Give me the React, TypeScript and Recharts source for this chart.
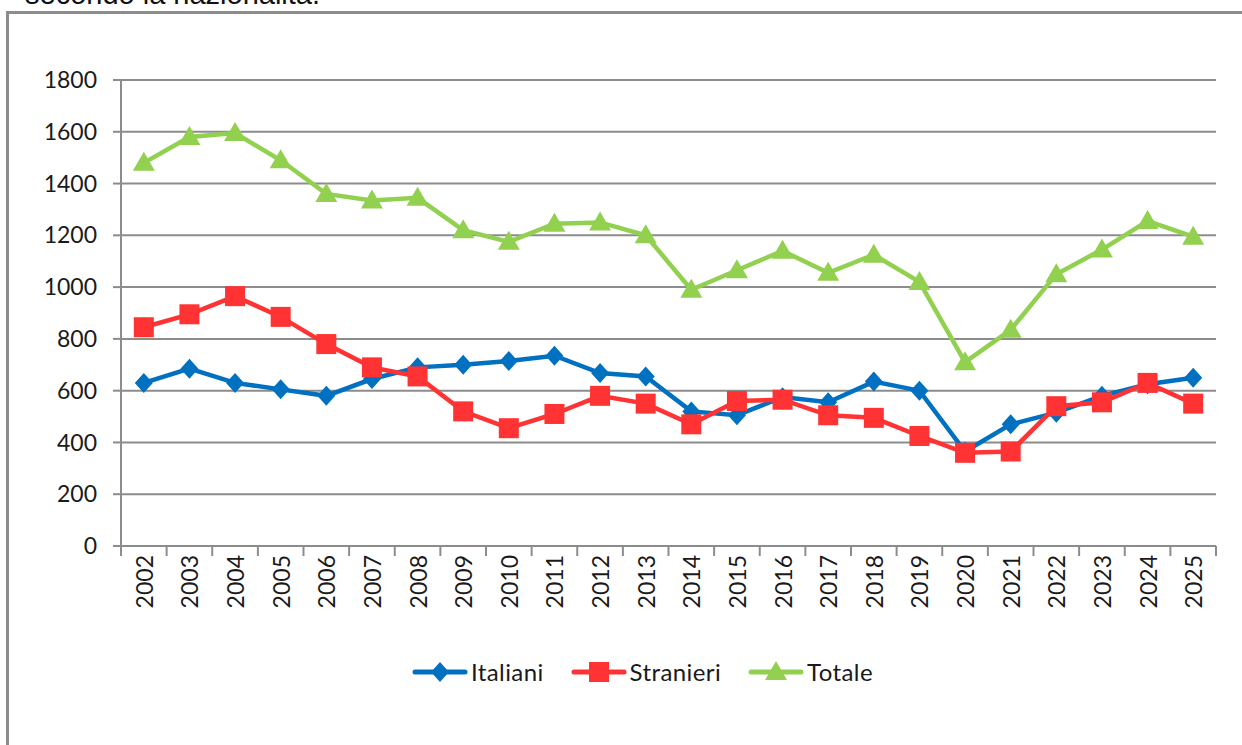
import React from "react";
import { LineChart, Line, XAxis, YAxis, CartesianGrid } from "recharts";

const years = [
  "2002", "2003", "2004", "2005", "2006", "2007", "2008", "2009", "2010", "2011", "2012", "2013",
  "2014", "2015", "2016", "2017", "2018", "2019", "2020", "2021", "2022", "2023", "2024", "2025",
];
const italiani = [630, 685, 630, 605, 580, 645, 690, 700, 715, 735, 668, 655, 520, 505, 575, 555, 635, 600, 365, 470, 515, 580, 625, 650];
const stranieri = [845, 895, 965, 885, 780, 690, 655, 520, 455, 510, 580, 550, 470, 560, 565, 505, 495, 425, 360, 365, 540, 555, 630, 550];
const totale = [1480, 1580, 1595, 1490, 1360, 1335, 1345, 1220, 1175, 1245, 1250, 1200, 990, 1065, 1140, 1055, 1125, 1020, 710, 835, 1050, 1145, 1255, 1195];
const yTicks = [0, 200, 400, 600, 800, 1000, 1200, 1400, 1600, 1800];

const data = years.map((y, i) => ({
  i,
  year: y,
  italiani: italiani[i],
  stranieri: stranieri[i],
  totale: totale[i],
}));

const BLUE = "#0070C0";
const RED = "#FF3333";
const GREEN = "#92D050";
const GRID = "#8c8c8c";
const FONT = "Lato, 'Open Sans', sans-serif";

const centerTicks = years.map((_, i) => i);
const edgeTicks = [...years.map((_, i) => i - 0.5), years.length - 0.5];

const Marker = ({ kind, x, y, color }) => {
  if (kind === "diamond") {
    return <polygon points={`${x},${y - 10} ${x + 9},${y} ${x},${y + 10} ${x - 9},${y}`} fill={color} />;
  }
  if (kind === "square") {
    return <rect x={x - 10} y={y - 10} width={20} height={20} fill={color} />;
  }
  return <polygon points={`${x},${y - 11} ${x + 11},${y + 8} ${x - 11},${y + 8}`} fill={color} />;
};

const dotFor = (kind, color) => (props) => (
  <Marker key={`${kind}-${props.index}`} kind={kind} x={props.cx} y={props.cy} color={color} />
);

const YearTick = ({ x, y, payload }) => (
  <g transform={`translate(${x},${y})`}>
    <text
      transform="rotate(-90)"
      textAnchor="end"
      dominantBaseline="central"
      fontFamily={FONT}
      fontSize={23}
      fill="#1a1a1a"
    >
      {years[payload.value]}
    </text>
  </g>
);

const series = [
  { key: "italiani", name: "Italiani", color: BLUE, kind: "diamond" },
  { key: "stranieri", name: "Stranieri", color: RED, kind: "square" },
  { key: "totale", name: "Totale", color: GREEN, kind: "triangle" },
];

export default function App() {
  return (
    <div style={{ position: "absolute", left: 0, top: 0, width: 1242, height: 745, overflow: "hidden", background: "#fff" }}>
      <div
        style={{
          position: "absolute",
          left: 25,
          top: -23,
          fontFamily: "'Liberation Sans', Arial, sans-serif",
          fontSize: 29,
          lineHeight: "34px",
          color: "#111",
          whiteSpace: "nowrap",
        }}
      >
        secondo la nazionalità.
      </div>
      <div style={{ position: "absolute", left: 6, top: 11, width: 1236, height: 2.5, background: GRID }} />
      <div style={{ position: "absolute", left: 6, top: 11, width: 2.5, height: 734, background: GRID }} />

      <div style={{ position: "absolute", left: 0, top: 0 }}>
        <LineChart
          width={1242}
          height={745}
          data={data}
          margin={{ top: 80, right: 26, left: 0, bottom: 118 }}
        >
          <CartesianGrid vertical={false} stroke={GRID} strokeWidth={2} />
          <XAxis
            type="number"
            dataKey="i"
            domain={[-0.5, years.length - 0.5]}
            ticks={edgeTicks}
            interval={0}
            height={1}
            tickSize={10}
            tickFormatter={() => ""}
            axisLine={{ stroke: GRID, strokeWidth: 2 }}
            tickLine={{ stroke: GRID, strokeWidth: 2 }}
          />
          <XAxis
            xAxisId="lab"
            type="number"
            dataKey="i"
            domain={[-0.5, years.length - 0.5]}
            ticks={centerTicks}
            interval={0}
            height={80}
            axisLine={false}
            tickLine={false}
            tickSize={0}
            tickMargin={8}
            tick={<YearTick />}
          />
          <YAxis
            width={121}
            domain={[0, 1800]}
            ticks={yTicks}
            interval={0}
            tickSize={8}
            tickMargin={16}
            axisLine={{ stroke: GRID, strokeWidth: 2 }}
            tickLine={{ stroke: GRID, strokeWidth: 2 }}
            tick={{ fontFamily: FONT, fontSize: 23, fill: "#1a1a1a" }}
          />
          {series.map((s) => (
            <Line
              key={s.key}
              type="linear"
              dataKey={s.key}
              name={s.name}
              stroke={s.color}
              strokeWidth={4.5}
              dot={dotFor(s.kind, s.color)}
              activeDot={false}
              isAnimationActive={false}
            />
          ))}
        </LineChart>
      </div>

      <div
        style={{
          position: "absolute",
          left: 412,
          top: 657,
          display: "flex",
          alignItems: "center",
          gap: 27,
          fontFamily: FONT,
          fontSize: 24,
          letterSpacing: 0.4,
          color: "#1a1a1a",
        }}
      >
        {series.map((s) => (
          <div key={s.key} style={{ display: "flex", alignItems: "center" }}>
            <svg width={56} height={24}>
              <line x1={3} y1={12} x2={53} y2={12} stroke={s.color} strokeWidth={5} strokeLinecap="round" />
              <Marker kind={s.kind} x={28} y={12} color={s.color} />
            </svg>
            <span style={{ marginLeft: 3 }}>{s.name}</span>
          </div>
        ))}
      </div>
    </div>
  );
}
